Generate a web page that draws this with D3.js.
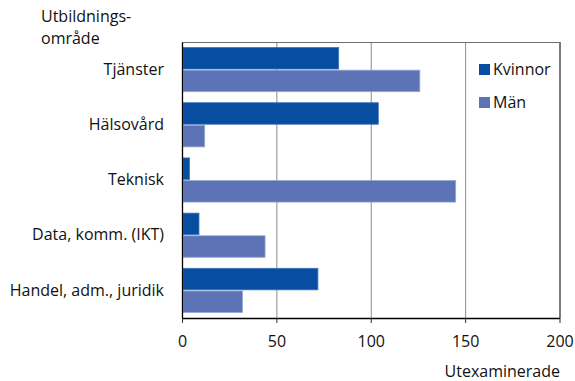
<!DOCTYPE html>
<head>
  <meta charset="utf-8">
  <script src="https://d3js.org/d3.v7.min.js"></script>
  <style>
    body { margin:0; background:white; }
    svg { display:block; font-family: "Open Sans", sans-serif; }
  </style>
</head>
<body>
<script>
  // data
  var categories = ["Tjänster", "Hälsovård", "Teknisk", "Data, komm. (IKT)", "Handel, adm., juridik"];
  var seriesNames = ["Kvinnor", "Män"];
  var kvinnor = [83, 104, 4, 9, 72];
  var man = [126, 12, 145, 44, 32];
  var xTicks = [0, 50, 100, 150, 200];

  var colors = { "Kvinnor": "#074ea1", "Män": "#5c73b6" };
  var strokes = { "Kvinnor": "#3f74b8", "Män": "#95a6d4" };

  var width = 575, height = 381;
  var margin = { top: 42, left: 182, right: 15, bottom: 63 };
  var fs = 16;

  var svg = d3.select("body").append("svg")
    .attr("width", width)
    .attr("height", height);

  var x = d3.scaleLinear()
    .domain([0, 200])
    .range([margin.left, 559.5]);

  var y = d3.scaleBand()
    .domain(categories)
    .range([margin.top, height - margin.bottom])
    .paddingInner(0.2)
    .paddingOuter(0.1);

  var y1 = d3.scaleBand()
    .domain(seriesNames)
    .range([0, y.bandwidth()])
    .paddingInner(0.05);

  // grid
  svg.append("g").selectAll("line")
    .data(xTicks.slice(1, 4))
    .enter().append("line")
    .attr("x1", function(d){ return x(d) + 0.5; })
    .attr("x2", function(d){ return x(d) + 0.5; })
    .attr("y1", margin.top)
    .attr("y2", height - margin.bottom)
    .attr("stroke", "#8c8c8c")
    .attr("stroke-width", 1);

  // plot frame: top and right
  svg.append("line")
    .attr("x1", margin.left).attr("x2", x(200))
    .attr("y1", margin.top + 0.5).attr("y2", margin.top + 0.5)
    .attr("stroke", "#6e6e6e");
  svg.append("line")
    .attr("x1", x(200) + 0.5).attr("x2", x(200) + 0.5)
    .attr("y1", margin.top).attr("y2", height - margin.bottom)
    .attr("stroke", "#5a5a5a").attr("stroke-width", 1.6);

  var rows = categories.map(function(c, i){
    return [{ cat: c, s: "Kvinnor", v: kvinnor[i] }, { cat: c, s: "Män", v: man[i] }];
  });

  svg.append("g").selectAll("g")
    .data(rows)
    .enter().append("g")
    .attr("transform", function(d){ return "translate(0," + y(d[0].cat) + ")"; })
    .selectAll("rect")
    .data(function(d){ return d; })
    .enter().append("rect")
    .attr("x", x(0) + 1)
    .attr("y", function(d){ return y1(d.s); })
    .attr("width", function(d){ return x(d.v) - x(0) - 1; })
    .attr("height", y1.bandwidth())
    .attr("fill", function(d){ return colors[d.s]; })
    .attr("stroke", function(d){ return strokes[d.s]; })
    .attr("stroke-width", 0.8);

  // bottom axis
  var xAxis = svg.append("g")
    .attr("transform", "translate(0," + (height - margin.bottom) + ")")
    .call(d3.axisBottom(x).tickValues(xTicks).tickSize(5).tickSizeOuter(0).tickPadding(13));
  xAxis.select(".domain").attr("stroke", "#000").attr("stroke-width", 1.3);
  xAxis.selectAll(".tick line").attr("stroke", "#333");
  xAxis.selectAll("text").attr("font-size", fs).attr("fill", "#111")
    .attr("font-family", "'Open Sans', sans-serif");

  // left axis
  var yAxis = svg.append("g")
    .attr("transform", "translate(" + margin.left + ",0)")
    .call(d3.axisLeft(y).tickSize(0).tickPadding(18));
  yAxis.select(".domain").attr("stroke", "#000").attr("stroke-width", 1.3);
  yAxis.selectAll("text").attr("font-size", fs).attr("fill", "#111")
    .attr("font-family", "'Open Sans', sans-serif");

  // axis titles
  svg.append("text")
    .attr("x", 41).attr("y", 22)
    .attr("font-size", fs).attr("fill", "#111")
    .text("Utbildnings-");
  svg.append("text")
    .attr("x", 41).attr("y", 44)
    .attr("font-size", fs).attr("fill", "#111")
    .text("område");
  svg.append("text")
    .attr("x", 560).attr("y", 377)
    .attr("text-anchor", "end")
    .attr("font-size", fs).attr("fill", "#111")
    .text("Utexaminerade");

  // legend
  var legend = svg.append("g").selectAll("g")
    .data(seriesNames)
    .enter().append("g")
    .attr("transform", function(d, i){ return "translate(479," + (64 + i * 33) + ")"; });
  legend.append("rect")
    .attr("width", 11).attr("height", 11)
    .attr("fill", function(d){ return colors[d]; });
  legend.append("text")
    .attr("x", 14).attr("y", 11)
    .attr("font-size", fs).attr("fill", "#111")
    .text(function(d){ return d; });
</script>
</body>
